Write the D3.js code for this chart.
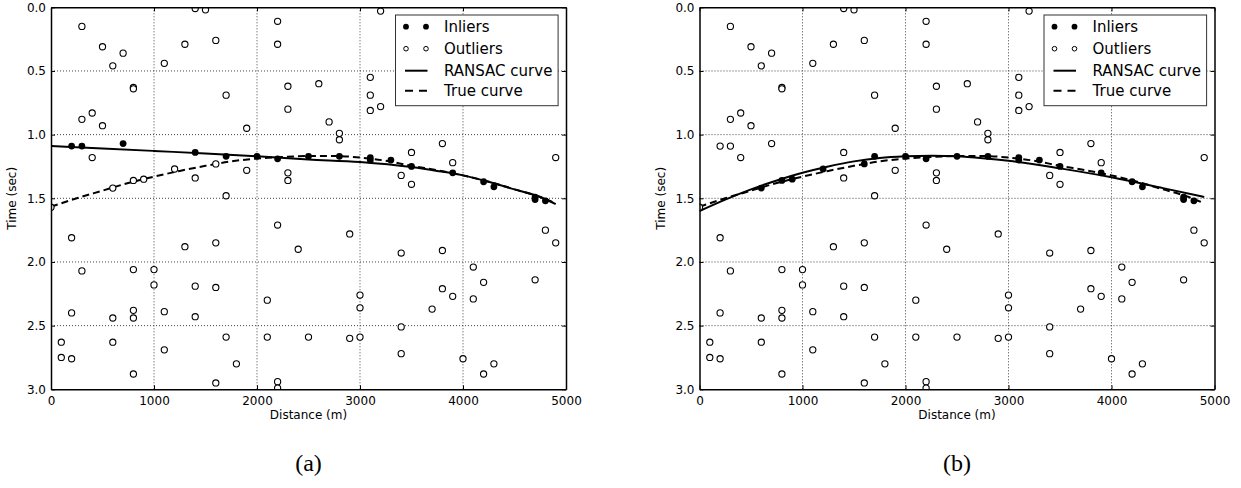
<!DOCTYPE html>
<html>
<head>
<meta charset="utf-8">
<script src="https://cdn.jsdelivr.net/npm/d3@7"></script>
<style>
  html, body { margin: 0; padding: 0; background: #fff; }
  svg { display: block; }
  text { font-family: "DejaVu Sans", sans-serif; fill: #000; }
</style>
</head>
<body>
<svg id="chart" width="1241" height="488"></svg>
<script>
// ---------------- data ----------------
const xTicks = [0, 1000, 2000, 3000, 4000, 5000];
const yTicks = [0.0, 0.5, 1.0, 1.5, 2.0, 2.5, 3.0];
const xLabel = "Distance (m)";
const yLabel = "Time (sec)";
const panelLabels = ["(a)", "(b)"];
const legendLabels = ["Inliers", "Outliers", "RANSAC curve", "True curve"];

// points classified as inliers in both panels
const sharedInlierDist = [1700, 2000, 2200, 2500, 2800, 3100, 3100, 3300, 3500, 3900, 4200, 4300, 4700, 4700, 4800];
const sharedInlierTime = [1.17, 1.17, 1.19, 1.17, 1.17, 1.18, 1.20, 1.20, 1.25, 1.30, 1.37, 1.41, 1.49, 1.51, 1.52];
// inliers only in panel (a) (outliers in b)
const onlyADist = [200, 300, 700, 1400];
const onlyATime = [1.09, 1.09, 1.07, 1.14];
// inliers only in panel (b) (outliers in a)
const onlyBDist = [600, 800, 900, 1200, 1600];
const onlyBTime = [1.42, 1.36, 1.35, 1.27, 1.23];
// outliers in both panels
const outlierDist = [0, 100, 100, 200, 200, 200, 300, 300, 300, 400, 400, 500, 500, 600, 600, 600, 700,
  800, 800, 800, 800, 800, 800, 1000, 1000, 1100, 1100, 1100, 1300, 1300, 1400, 1400, 1400, 1400, 1500,
  1600, 1600, 1600, 1600, 1700, 1700, 1700, 1800, 1900, 1900, 2100, 2100, 2200, 2200, 2200, 2200, 2200,
  2300, 2300, 2300, 2300, 2400, 2500, 2600, 2700, 2800, 2800, 2900, 2900, 3000, 3000, 3000, 3100, 3100, 3100,
  3200, 3200, 3400, 3400, 3400, 3400, 3500, 3500, 3700, 3800, 3800, 3800, 3900, 3900, 4000, 4100, 4100,
  4200, 4200, 4300, 4700, 4800, 4900, 4900];
const outlierTime = [1.57, 2.63, 2.75, 1.81, 2.40, 2.76, 0.15, 0.88, 2.07, 0.83, 1.18, 0.31, 0.93, 0.46, 2.44, 2.63, 0.36,
  0.63, 0.64, 2.06, 2.38, 2.44, 2.88, 2.06, 2.18, 0.44, 2.39, 2.69, 0.29, 1.88, 0.01, 1.34, 2.19, 2.43, 0.02,
  0.26, 1.85, 2.20, 2.95, 0.69, 1.48, 2.59, 2.80, 0.95, 1.28, 2.30, 2.59, 0.11, 0.29, 1.71, 2.94, 2.99,
  0.62, 0.80, 1.30, 1.36, 1.90, 2.59, 0.60, 0.90, 0.99, 1.04, 1.78, 2.60, 2.26, 2.36, 2.59, 0.55, 0.69, 0.81,
  0.03, 0.78, 1.32, 1.93, 2.51, 2.72, 1.14, 1.39, 2.37, 1.07, 1.91, 2.21, 1.22, 2.27, 2.76, 2.04, 2.29,
  2.16, 2.88, 2.80, 2.14, 1.75, 1.18, 1.85];

// curves
const trueCurveDist = [0, 250, 500, 750, 1000, 1250, 1500, 1750, 2000, 2250, 2500, 2750, 3000, 3250, 3500, 3750, 4000, 4250, 4500, 4750, 4900];
const trueCurveTime = [1.566, 1.50, 1.44, 1.38, 1.33, 1.285, 1.245, 1.21, 1.188, 1.175, 1.168, 1.168, 1.18, 1.205, 1.245, 1.28, 1.32, 1.37, 1.43, 1.49, 1.54];
const ransacADist = [0, 500, 1000, 1500, 2000, 2500, 3000, 3500, 3750, 4000, 4250, 4500, 4750, 4900];
const ransacATime = [1.089, 1.108, 1.128, 1.148, 1.17, 1.195, 1.215, 1.255, 1.285, 1.32, 1.37, 1.43, 1.49, 1.545];
const ransacBDist = [0, 250, 500, 750, 1000, 1250, 1500, 1750, 2000, 2250, 2500, 2750, 3000, 3500, 4000, 4500, 4900];
const ransacBTime = [1.60, 1.51, 1.43, 1.36, 1.30, 1.25, 1.21, 1.183, 1.17, 1.165, 1.17, 1.185, 1.205, 1.265, 1.335, 1.42, 1.49];

// ---------------- drawing ----------------
const svg = d3.select("#chart");
const zip = (a, b) => a.map((v, i) => [v, b[i]]);

const panels = [
  {
    left: 51, right: 566, label: panelLabels[0],
    inliers: zip(sharedInlierDist, sharedInlierTime).concat(zip(onlyADist, onlyATime)),
    outliers: zip(outlierDist, outlierTime).concat(zip(onlyBDist, onlyBTime)),
    ransac: zip(ransacADist, ransacATime)
  },
  {
    left: 699.5, right: 1214.5, label: panelLabels[1],
    inliers: zip(sharedInlierDist, sharedInlierTime).concat(zip(onlyBDist, onlyBTime)),
    outliers: zip(outlierDist, outlierTime).concat(zip(onlyADist, onlyATime)),
    ransac: zip(ransacBDist, ransacBTime)
  }
];
const plotTop = 7.3, plotBottom = 389.3;
const trueCurve = zip(trueCurveDist, trueCurveTime);

panels.forEach((p, pi) => {
  const x = d3.scaleLinear().domain([0, 5000]).range([p.left, p.right]);
  const y = d3.scaleLinear().domain([0, 3]).range([plotTop, plotBottom]);
  const g = svg.append("g");
  const clipId = "clip" + pi;
  g.append("clipPath").attr("id", clipId).append("rect")
    .attr("x", p.left).attr("y", plotTop).attr("width", p.right - p.left).attr("height", plotBottom - plotTop);

  // grid
  const grid = g.append("g").attr("stroke", "#444").attr("stroke-width", 1).attr("stroke-dasharray", "1,2");
  xTicks.slice(1, -1).forEach(t => grid.append("line")
    .attr("x1", x(t)).attr("x2", x(t)).attr("y1", plotTop).attr("y2", plotBottom));
  yTicks.slice(1, -1).forEach(t => grid.append("line")
    .attr("x1", p.left).attr("x2", p.right).attr("y1", y(t)).attr("y2", y(t)));

  const plot = g.append("g").attr("clip-path", `url(#${clipId})`);
  const line = d3.line().x(d => x(d[0])).y(d => y(d[1])).curve(d3.curveMonotoneX);

  plot.append("path").datum(trueCurve).attr("d", line)
    .attr("fill", "none").attr("stroke", "#000").attr("stroke-width", 2).attr("stroke-dasharray", "7,4");
  plot.append("path").datum(p.ransac).attr("d", line)
    .attr("fill", "none").attr("stroke", "#000").attr("stroke-width", 2);

  plot.selectAll("circle.out").data(p.outliers).join("circle").attr("class", "out")
    .attr("cx", d => x(d[0])).attr("cy", d => y(d[1])).attr("r", 3.1)
    .attr("fill", "#fff").attr("stroke", "#000").attr("stroke-width", 1.1);
  plot.selectAll("circle.in").data(p.inliers).join("circle").attr("class", "in")
    .attr("cx", d => x(d[0])).attr("cy", d => y(d[1])).attr("r", 3.4)
    .attr("fill", "#000");

  // axes (inward ticks on all sides)
  const axB = g.append("g").attr("transform", `translate(0,${plotBottom})`)
    .call(d3.axisBottom(x).tickValues(xTicks).tickSizeInner(-4).tickSizeOuter(0).tickPadding(7).tickFormat(d3.format("d")));
  const axT = g.append("g").attr("transform", `translate(0,${plotTop})`)
    .call(d3.axisTop(x).tickValues(xTicks).tickSizeInner(-4).tickSizeOuter(0).tickFormat(""));
  const axL = g.append("g").attr("transform", `translate(${p.left},0)`)
    .call(d3.axisLeft(y).tickValues(yTicks).tickSizeInner(-4).tickSizeOuter(0).tickPadding(5).tickFormat(d3.format(".1f")));
  const axR = g.append("g").attr("transform", `translate(${p.right},0)`)
    .call(d3.axisRight(y).tickValues(yTicks).tickSizeInner(-4).tickSizeOuter(0).tickFormat(""));
  [axB, axT, axL, axR].forEach(a => {
    a.select(".domain").attr("stroke", "#000").attr("stroke-width", 1.5);
    a.selectAll(".tick line").attr("stroke", "#000");
    a.selectAll("text").attr("font-size", 12).attr("font-family", "DejaVu Sans, sans-serif").attr("fill", "#000");
  });
  axB.selectAll("text").attr("dy", "0.71em");

  // axis labels
  g.append("text").attr("x", (p.left + p.right) / 2).attr("y", 419)
    .attr("text-anchor", "middle").attr("font-size", 12).text(xLabel);
  g.append("text").attr("transform", `translate(${p.left - 35},${(plotTop + plotBottom) / 2}) rotate(-90)`)
    .attr("text-anchor", "middle").attr("font-size", 12).text(yLabel);

  // panel label
  g.append("text").attr("x", (p.left + p.right) / 2).attr("y", 471)
    .attr("text-anchor", "middle").attr("font-size", 24)
    .style("font-family", "'Liberation Serif', 'DejaVu Serif', serif").text(p.label);

  // legend
  const lx = p.right - 170.5, ly = 15, lw = 162.6, lh = 90.7;
  const lg = g.append("g");
  lg.append("rect").attr("x", lx).attr("y", ly).attr("width", lw).attr("height", lh)
    .attr("fill", "#fff").attr("stroke", "#333").attr("stroke-width", 1);
  const rows = [26.7, 48.7, 70.7, 90.7];
  const m1 = lx + 10.5, m2 = lx + 30.5, tx = lx + 48.5;
  [m1, m2].forEach(mx => {
    lg.append("circle").attr("cx", mx).attr("cy", rows[0]).attr("r", 2.9).attr("fill", "#000");
    lg.append("circle").attr("cx", mx).attr("cy", rows[1]).attr("r", 2.3)
      .attr("fill", "#fff").attr("stroke", "#000").attr("stroke-width", 1);
  });
  lg.append("line").attr("x1", lx + 9.5).attr("x2", lx + 32).attr("y1", rows[2]).attr("y2", rows[2])
    .attr("stroke", "#000").attr("stroke-width", 2);
  lg.append("line").attr("x1", lx + 9.5).attr("x2", lx + 32).attr("y1", rows[3]).attr("y2", rows[3])
    .attr("stroke", "#000").attr("stroke-width", 2).attr("stroke-dasharray", "8,6");
  legendLabels.forEach((t, i) => lg.append("text").attr("x", tx).attr("y", rows[i])
    .attr("dy", "0.36em").attr("font-size", 15).text(t));
});
</script>
</body>
</html>
